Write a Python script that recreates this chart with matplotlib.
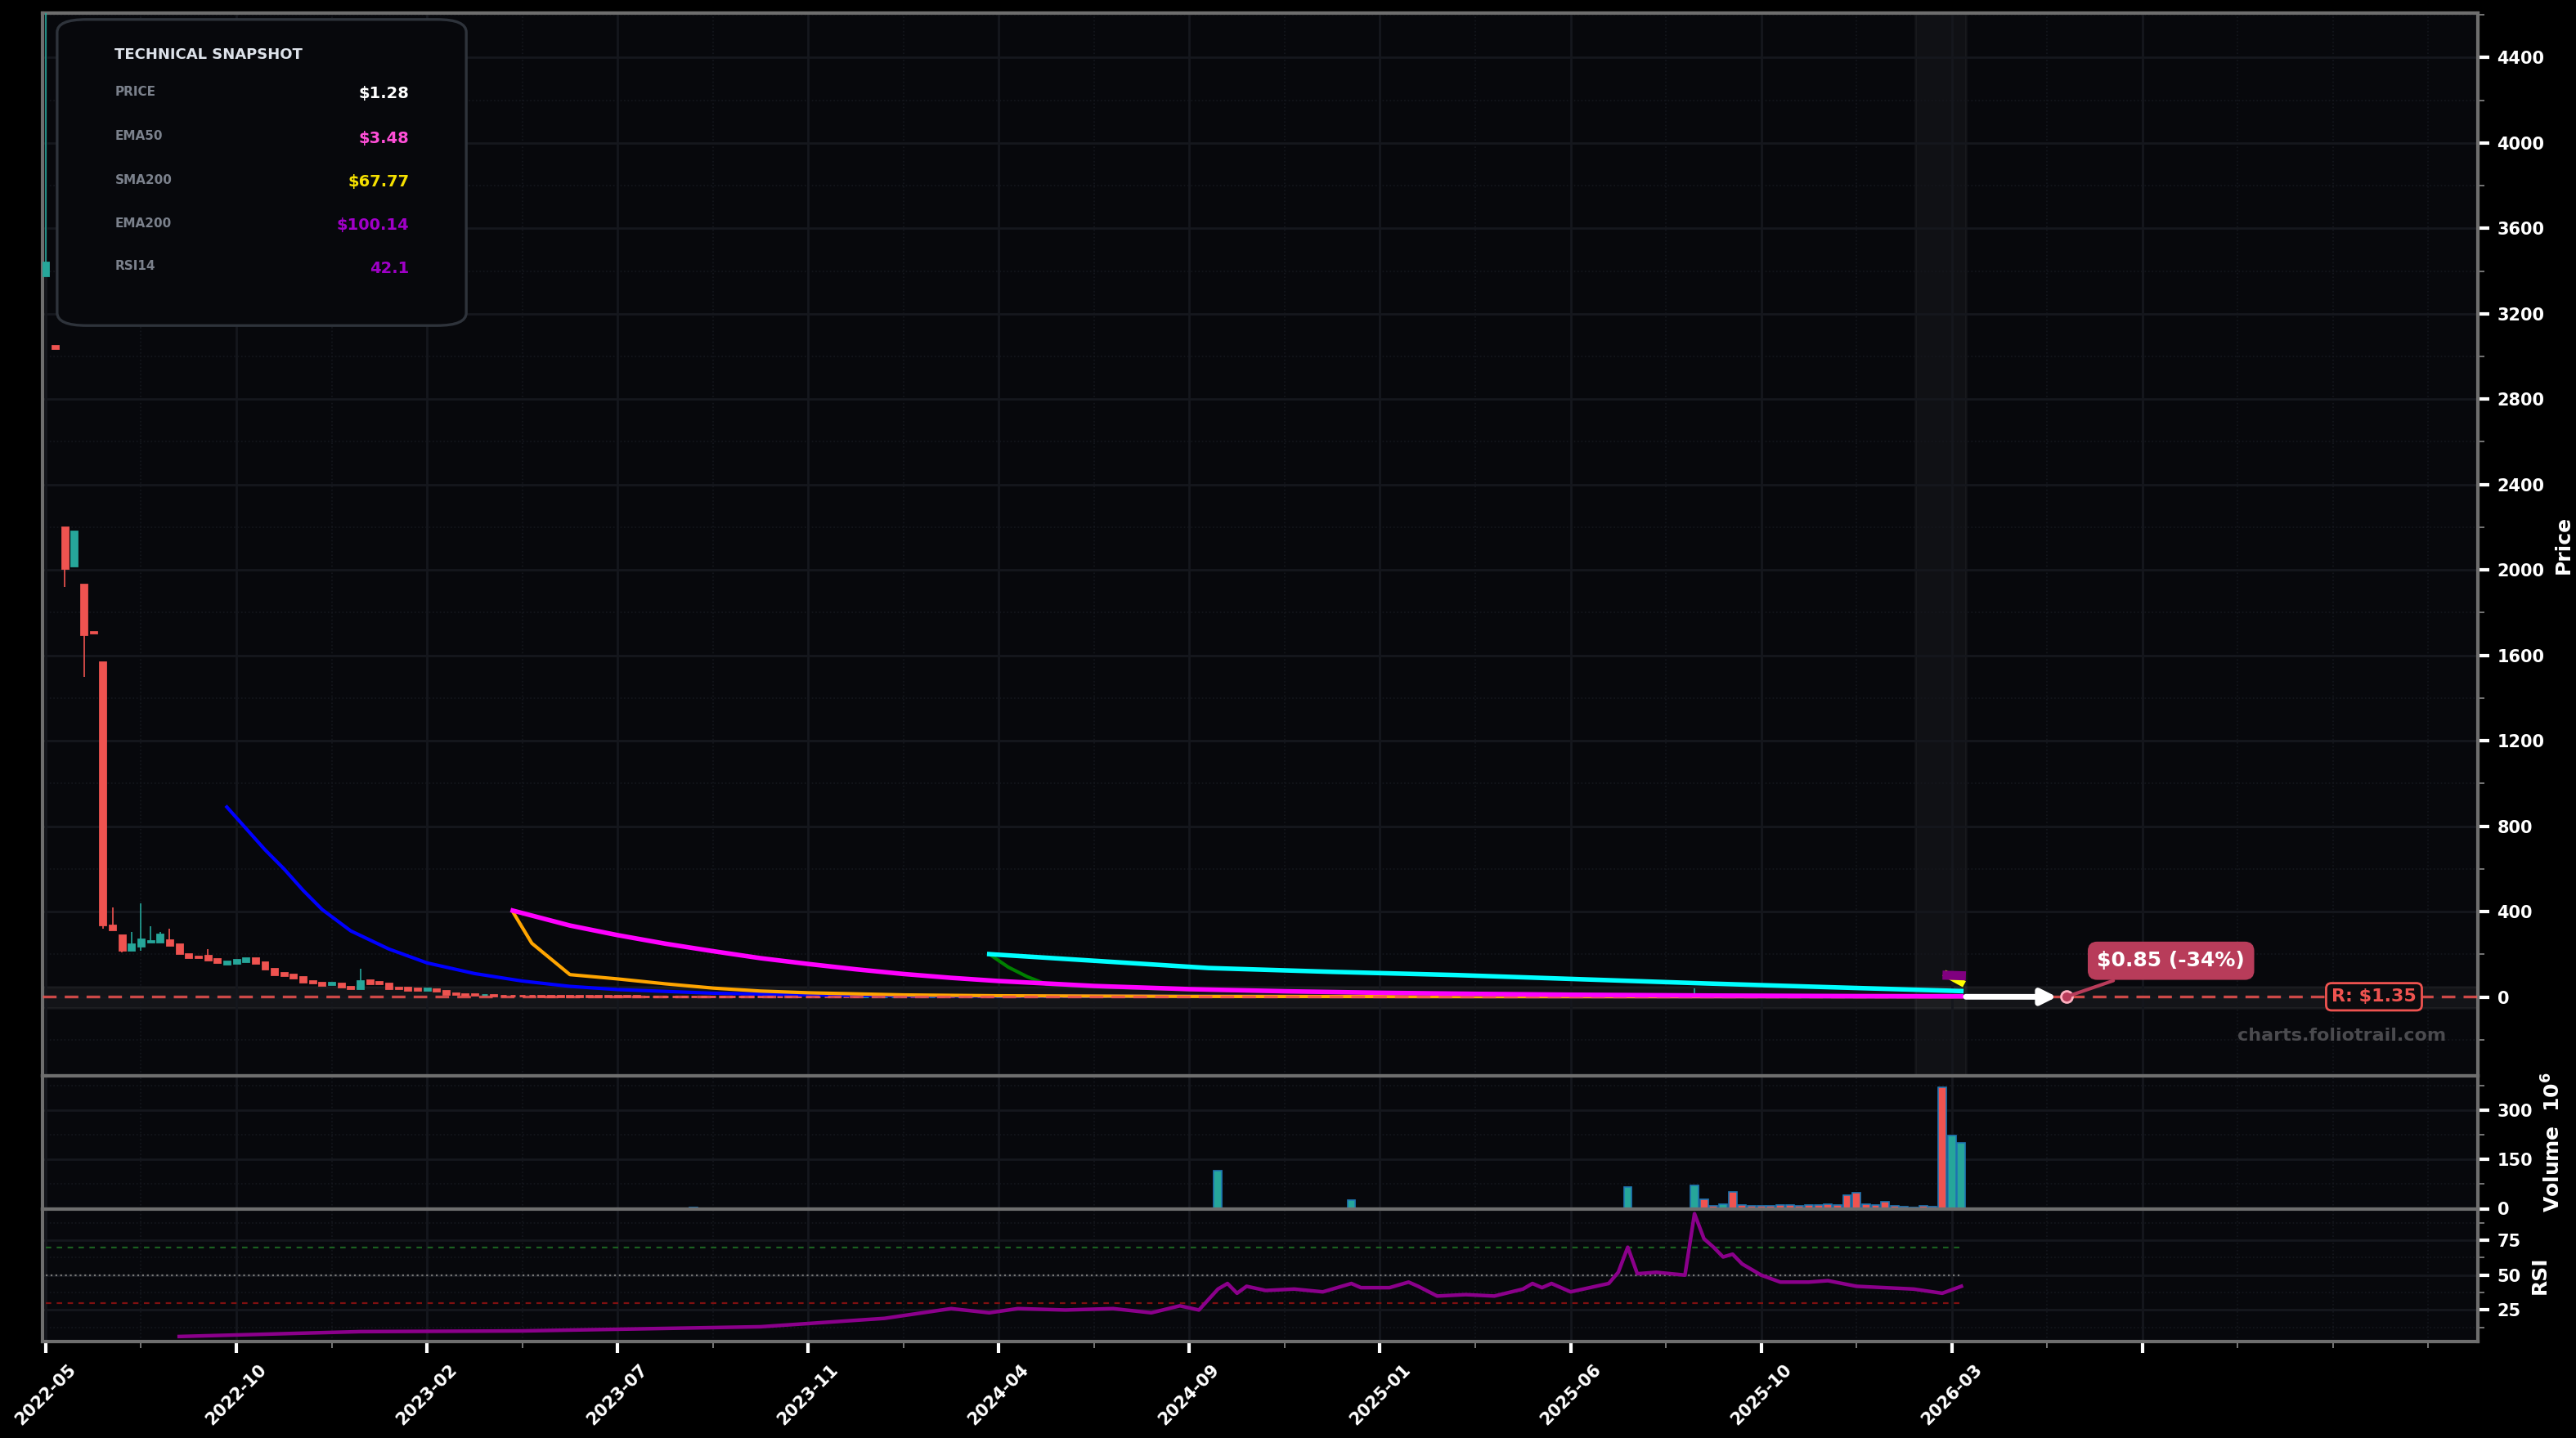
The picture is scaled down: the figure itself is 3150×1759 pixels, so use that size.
import matplotlib
matplotlib.use("Agg")
import matplotlib.pyplot as plt
from matplotlib.patches import FancyBboxPatch, Rectangle
from matplotlib.ticker import MultipleLocator
import numpy as np

# ---------------- DATA ----------------
early_open = [3380, 3050, 2200, 2020, 1930, 1710, 1570, 335, 290, 222, 238, 257, 259, 265, 249, 202, 190, 193, 180, 157,
              160, 168, 181, 162, 131, 112, 105, 94, 74, 66, 58, 63, 47, 40, 79, 70, 63, 45, 45, 39,
              32, 37, 31, 19, 15, 13]
early_close = [3440, 3040, 2010, 2180, 1700, 1705, 340, 316, 222, 248, 270, 262, 295, 244, 206, 185, 188, 176, 164, 168,
               175, 181, 160, 133, 105, 100, 92, 73, 66, 57, 68, 50, 40, 76, 65, 62, 40, 40, 34, 32,
               39, 28, 15, 13, 11, 9]
tail_close = [9, 7, 6, 5.5, 5, 4.6, 4.2, 4.0, 3.7, 3.4,
              3.2, 3.0, 2.9, 2.7, 2.5, 2.4, 2.3, 2.2, 2.1, 2.0,
              1.95, 1.9, 1.85, 1.8, 1.75, 1.7, 1.68, 1.65, 1.6, 1.58,
              1.55, 1.5, 1.48, 1.45, 1.42, 1.4, 1.38, 1.35, 1.32, 1.3,
              1.35, 1.4, 1.45, 1.5, 1.55, 1.5, 1.6, 1.65, 1.6, 1.55,
              1.6, 1.7, 1.65, 1.6, 1.7, 1.75, 1.7, 1.65, 1.7, 1.8,
              1.75, 1.7, 1.75, 1.8, 1.7, 1.65, 1.7, 1.75, 1.7, 1.6,
              1.55, 1.6, 1.7, 1.65, 1.7, 1.8, 1.75, 2.4, 2.5, 2.3,
              2.35, 2.3, 2.3, 2.25, 2.3, 2.3, 2.2, 2.2, 2.25, 2.2,
              2.1, 2.4, 2.3, 2.3, 2.25, 2.3, 2.6, 2.55, 2.4, 2.1,
              2.05, 2.05, 2.0, 2.0, 1.95, 1.95, 1.9, 2.0, 2.2, 2.4,
              2.35, 2.4, 2.3, 2.45, 2.3, 2.25, 2.3, 2.35, 2.5, 2.7,
              4.2, 3.0, 2.9, 2.95, 2.9, 2.85, 2.8, 9.5, 6.0, 4.5,
              4.8, 4.0, 3.5, 3.0, 2.6, 2.3, 2.2, 2.15, 2.1, 2.0,
              1.9, 1.85, 1.8, 1.7, 1.65, 1.6, 1.55, 1.5, 1.45, 1.4,
              1.38, 1.35, 1.3, 1.1, 1.2, 1.28]
wick_idx = [0, 2, 4, 6, 7, 8, 9, 10, 11, 12, 13, 17, 33, 173]
wick_high = [4700, 2200, 1930, 1570, 419, 290, 303, 440, 332, 305, 319, 225, 133, 40]
wick_low = [3380, 1920, 1500, 320, 316, 210, 222, 215, 257, 259, 244, 176, 40, 2]

blue_x = [19, 21, 23, 25, 27, 29, 32, 36, 40, 45, 50, 55, 60, 70, 80, 90, 100, 120, 150, 201]
blue_y = [890, 790, 690, 600, 500, 410, 310, 225, 160, 110, 75, 50, 35, 18, 10, 6, 4, 3, 2, 1.5]
orange_x = [49, 51, 55, 60, 65, 70, 75, 80, 90, 100, 120, 150, 201]
orange_y = [400, 252, 105, 85, 62, 42, 28, 20, 10, 6, 3, 2, 1.5]
magenta_x = [49, 52, 55, 60, 65, 70, 75, 80, 85, 90, 95, 100, 110, 120, 130, 140, 150, 160, 175, 190, 201]
magenta_y = [405, 370, 335, 290, 250, 215, 182, 155, 130, 108, 90, 75, 52, 37, 27, 20, 15, 11, 7, 4.5, 3.5]
green_x = [99, 101, 103, 105, 110, 120, 130, 140, 150, 170, 201]
green_y = [201, 140, 95, 60, 48, 35, 25, 18, 12, 7, 4]
cyan_x = [99, 110, 122, 135, 148, 160, 174, 188, 201]
cyan_y = [201, 170, 136, 118, 103, 85, 64, 45, 28]
yellow_x = [199.5, 200.5, 201]
yellow_y = [105, 80, 68]
purple_x = [199.5, 201]
purple_y = [102, 100]

vol_idx = [33, 68, 123, 137, 166, 173, 174, 175, 176, 177, 178, 179, 180, 181, 182, 183, 184, 185, 186, 187,
           188, 189, 190, 191, 192, 193, 194, 195, 196, 197, 198, 199, 200, 201]
vol_val = [2, 3, 115, 25, 65, 70, 28, 8, 14, 50, 10, 8, 9, 8, 10, 12, 8, 10, 12, 14,
           10, 40, 48, 14, 10, 22, 8, 5, 3, 8, 7, 370, 222, 201]

rsi_x = [14, 33, 50, 75, 88, 92, 95, 99, 102, 107, 112, 116, 119, 121, 123, 124, 125, 126, 128, 131, 134, 137,
         138, 141, 143, 144, 146, 149, 152, 155, 156, 157, 158, 160, 162, 164, 165, 166, 167, 169, 172, 173,
         174, 175, 176, 177, 178, 180, 182, 185, 187, 190, 193, 196, 199, 201]
rsi_y = [6, 9.5, 10, 13, 19, 23, 26, 23, 26, 25, 26, 23, 28, 25, 40, 44, 37, 42, 39, 40, 38, 44,
         41, 41, 45, 42, 35, 36, 35, 40, 44, 41, 44, 38, 41, 44, 52, 70, 51, 52, 50, 94,
         76, 70, 63, 65, 58, 50, 45, 45, 46, 42, 41, 40, 37, 42]

tick_pos = [0, 20, 40, 60, 80, 100, 120, 140, 160, 180, 200, 220]
tick_labels = ["2022-05", "2022-10", "2023-02", "2023-07", "2023-11", "2024-04",
               "2024-09", "2025-01", "2025-06", "2025-10", "2026-03", "", ""]
tick_labels = tick_labels[:len(tick_pos)]

snap_labels = ["PRICE", "EMA50", "SMA200", "EMA200", "RSI14"]
snap_values = ["$1.28", "$3.48", "$67.77", "$100.14", "42.1"]
snap_colors = ["#ffffff", "#ff4fd8", "#f5e000", "#a000c8", "#a000c8"]

last_price = 1.28
target_price = 0.85
resistance = 1.35

# ---------------- BUILD ----------------
opens = list(early_open)
closes = list(early_close)
for c in tail_close:
    opens.append(closes[-1])
    closes.append(c)
n = len(closes)
idx = np.arange(n)
highs = [max(o, c) for o, c in zip(opens, closes)]
lows = [min(o, c) for o, c in zip(opens, closes)]
for i, h, l in zip(wick_idx, wick_high, wick_low):
    highs[i] = max(highs[i], h)
    lows[i] = min(lows[i], l)

UP = "#26a69a"
DN = "#ef5350"
BG = "#07080c"
GRID = "#15171d"

plt.rcParams['font.family'] = ['DejaVu Sans']
fig = plt.figure(figsize=(15.75, 8.795), dpi=200, facecolor="black")
gs = fig.add_gridspec(3, 1, height_ratios=[8, 1, 1], hspace=0,
                      left=52/3150, right=3030/3150, top=1-16/1759, bottom=1-1641/1759)
ax = fig.add_subplot(gs[0])
axv = fig.add_subplot(gs[1], sharex=ax)
axr = fig.add_subplot(gs[2], sharex=ax)

for a in (ax, axv, axr):
    a.set_facecolor(BG)
    for s in a.spines.values():
        s.set_color("#6e6e6e")
        s.set_linewidth(1.5)
    a.yaxis.tick_right()
    a.yaxis.set_label_position("right")
    a.tick_params(colors="white", labelsize=7.5, width=1.5, length=5)
    a.tick_params(which="minor", colors="#8a8a8a", length=3)
    a.grid(True, which="major", color=GRID, lw=1.0)
    a.grid(True, which="minor", color=GRID, lw=0.6, ls=":")

# candles
for i in range(n):
    col = UP if closes[i] >= opens[i] else DN
    ax.vlines(idx[i], lows[i], highs[i], color=col, lw=0.6, zorder=3)
    b = min(opens[i], closes[i])
    h = max(abs(closes[i] - opens[i]), 2)
    ax.add_patch(Rectangle((idx[i] - 0.3, b), 0.6, h, color=col, zorder=4))

ax.plot(blue_x, blue_y, color="#0000ff", lw=1.5, zorder=5)
ax.plot(orange_x, orange_y, color="#ffa500", lw=1.5, zorder=5)
ax.plot(magenta_x, magenta_y, color="#ff00ff", lw=2, zorder=6)
ax.plot(green_x, green_y, color="#008000", lw=1.5, zorder=5)
ax.plot(cyan_x, cyan_y, color="#00ffff", lw=2, zorder=6)
ax.plot(yellow_x, yellow_y, color="#ffff00", lw=3, zorder=7)
ax.plot(purple_x, purple_y, color="#800080", lw=4, zorder=7)

ax.axvspan(196.2, 201.5, color="white", alpha=0.04, zorder=1)
ax.axhspan(-50, 50, color="white", alpha=0.05, zorder=1)
ax.axhline(resistance, color=DN, lw=1.2, ls=(0, (5, 3)), alpha=0.85, zorder=5)

# projection arrow
ax.annotate("", xy=(211.5, target_price), xytext=(n - 1, last_price),
            arrowprops=dict(arrowstyle="-|>", color="white", lw=2.5, mutation_scale=14), zorder=8)
ax.plot([212], [target_price], marker="o", ms=5, mfc="#b83c5a", mec="#ffb0c0", zorder=9)
ax.annotate("$0.85 (-34%)", xy=(212, target_price), xytext=(223, 170),
            ha="center", va="center", color="white", fontsize=9, fontweight="bold",
            bbox=dict(boxstyle="round,pad=0.4", fc="#b83c5a", ec="#b83c5a"),
            arrowprops=dict(arrowstyle="-", color="#b83c5a", lw=1.5), zorder=9)
ax.text(244.3, resistance, "R: $1.35", ha="center", va="center", color=DN, fontsize=8,
        fontweight="bold", bbox=dict(boxstyle="round,pad=0.3", fc="#0b0b0e", ec=DN, lw=1), zorder=9)
ax.text(0.987, 0.03, "charts.foliotrail.com", transform=ax.transAxes, ha="right", va="bottom",
        color="#4a4a4e", fontsize=8, fontweight="bold")

ax.set_xlim(-0.34, 255.2)
ax.set_ylim(-369, 4608)
ax.yaxis.set_major_locator(MultipleLocator(400))
ax.yaxis.set_minor_locator(MultipleLocator(200))
ax.set_ylabel("Price", color="white", fontsize=9, fontweight="bold")

# snapshot box
ax.add_patch(FancyBboxPatch((0.006, 0.706), 0.168, 0.288, transform=ax.transAxes,
                            boxstyle="round,pad=0,rounding_size=0.012", fc="#07080c",
                            ec="#2e333b", lw=1.2, zorder=10))
ax.text(0.0297, 0.961, "TECHNICAL SNAPSHOT", transform=ax.transAxes, color="#dde2ea",
        fontsize=6.5, fontweight="bold", va="center", zorder=11)
rows_y = [0.926, 0.884, 0.843, 0.802, 0.762]
for lab, val, col, yy in zip(snap_labels, snap_values, snap_colors, rows_y):
    ax.text(0.0297, yy, lab, transform=ax.transAxes, color="#7b818c", fontsize=5.5,
            fontweight="bold", va="center", zorder=11)
    ax.text(0.1505, yy - 0.002, val, transform=ax.transAxes, color=col, fontsize=7,
            fontweight="bold", va="center", ha="right", zorder=11)

# volume
vcols = [UP if closes[i] >= opens[i] else DN for i in vol_idx]
axv.bar(vol_idx, vol_val, width=0.85, color=vcols, edgecolor="#1f77b4", lw=0.6, zorder=3)
axv.set_ylim(0, 405)
axv.yaxis.set_major_locator(MultipleLocator(150))
axv.yaxis.set_minor_locator(MultipleLocator(75))
axv.set_ylabel("Volume  $\\mathbf{10^6}$", color="white", fontsize=9, fontweight="bold")

# RSI
axr.plot(rsi_x, rsi_y, color="#8b008b", lw=1.6, zorder=4)
axr.hlines(70, 0, n - 1, color="#1b5e20", lw=0.8, ls=(0, (3, 3)))
axr.hlines(50, 0, n - 1, color="#777777", lw=0.8, ls=":")
axr.hlines(30, 0, n - 1, color="#7f1010", lw=0.8, ls=(0, (3, 3)))
axr.set_ylim(2.4, 97.6)
axr.yaxis.set_major_locator(MultipleLocator(25))
axr.yaxis.set_minor_locator(MultipleLocator(12.5))
axr.set_ylabel("RSI", color="white", fontsize=9, fontweight="bold")

axr.set_xticks(tick_pos)
axr.set_xticklabels(tick_labels, rotation=45, ha="center", fontsize=7.5,
                    fontweight="bold", color="white")
axr.xaxis.set_minor_locator(MultipleLocator(10))
plt.setp(ax.get_xticklabels(), visible=False)
plt.setp(axv.get_xticklabels(), visible=False)
ax.tick_params(axis="x", which="both", length=0)
axv.tick_params(axis="x", which="both", length=0)
for a in (ax, axv, axr):
    for lab in a.get_yticklabels():
        lab.set_fontweight("bold")

fig.savefig("out.png", dpi=200, facecolor="black")
